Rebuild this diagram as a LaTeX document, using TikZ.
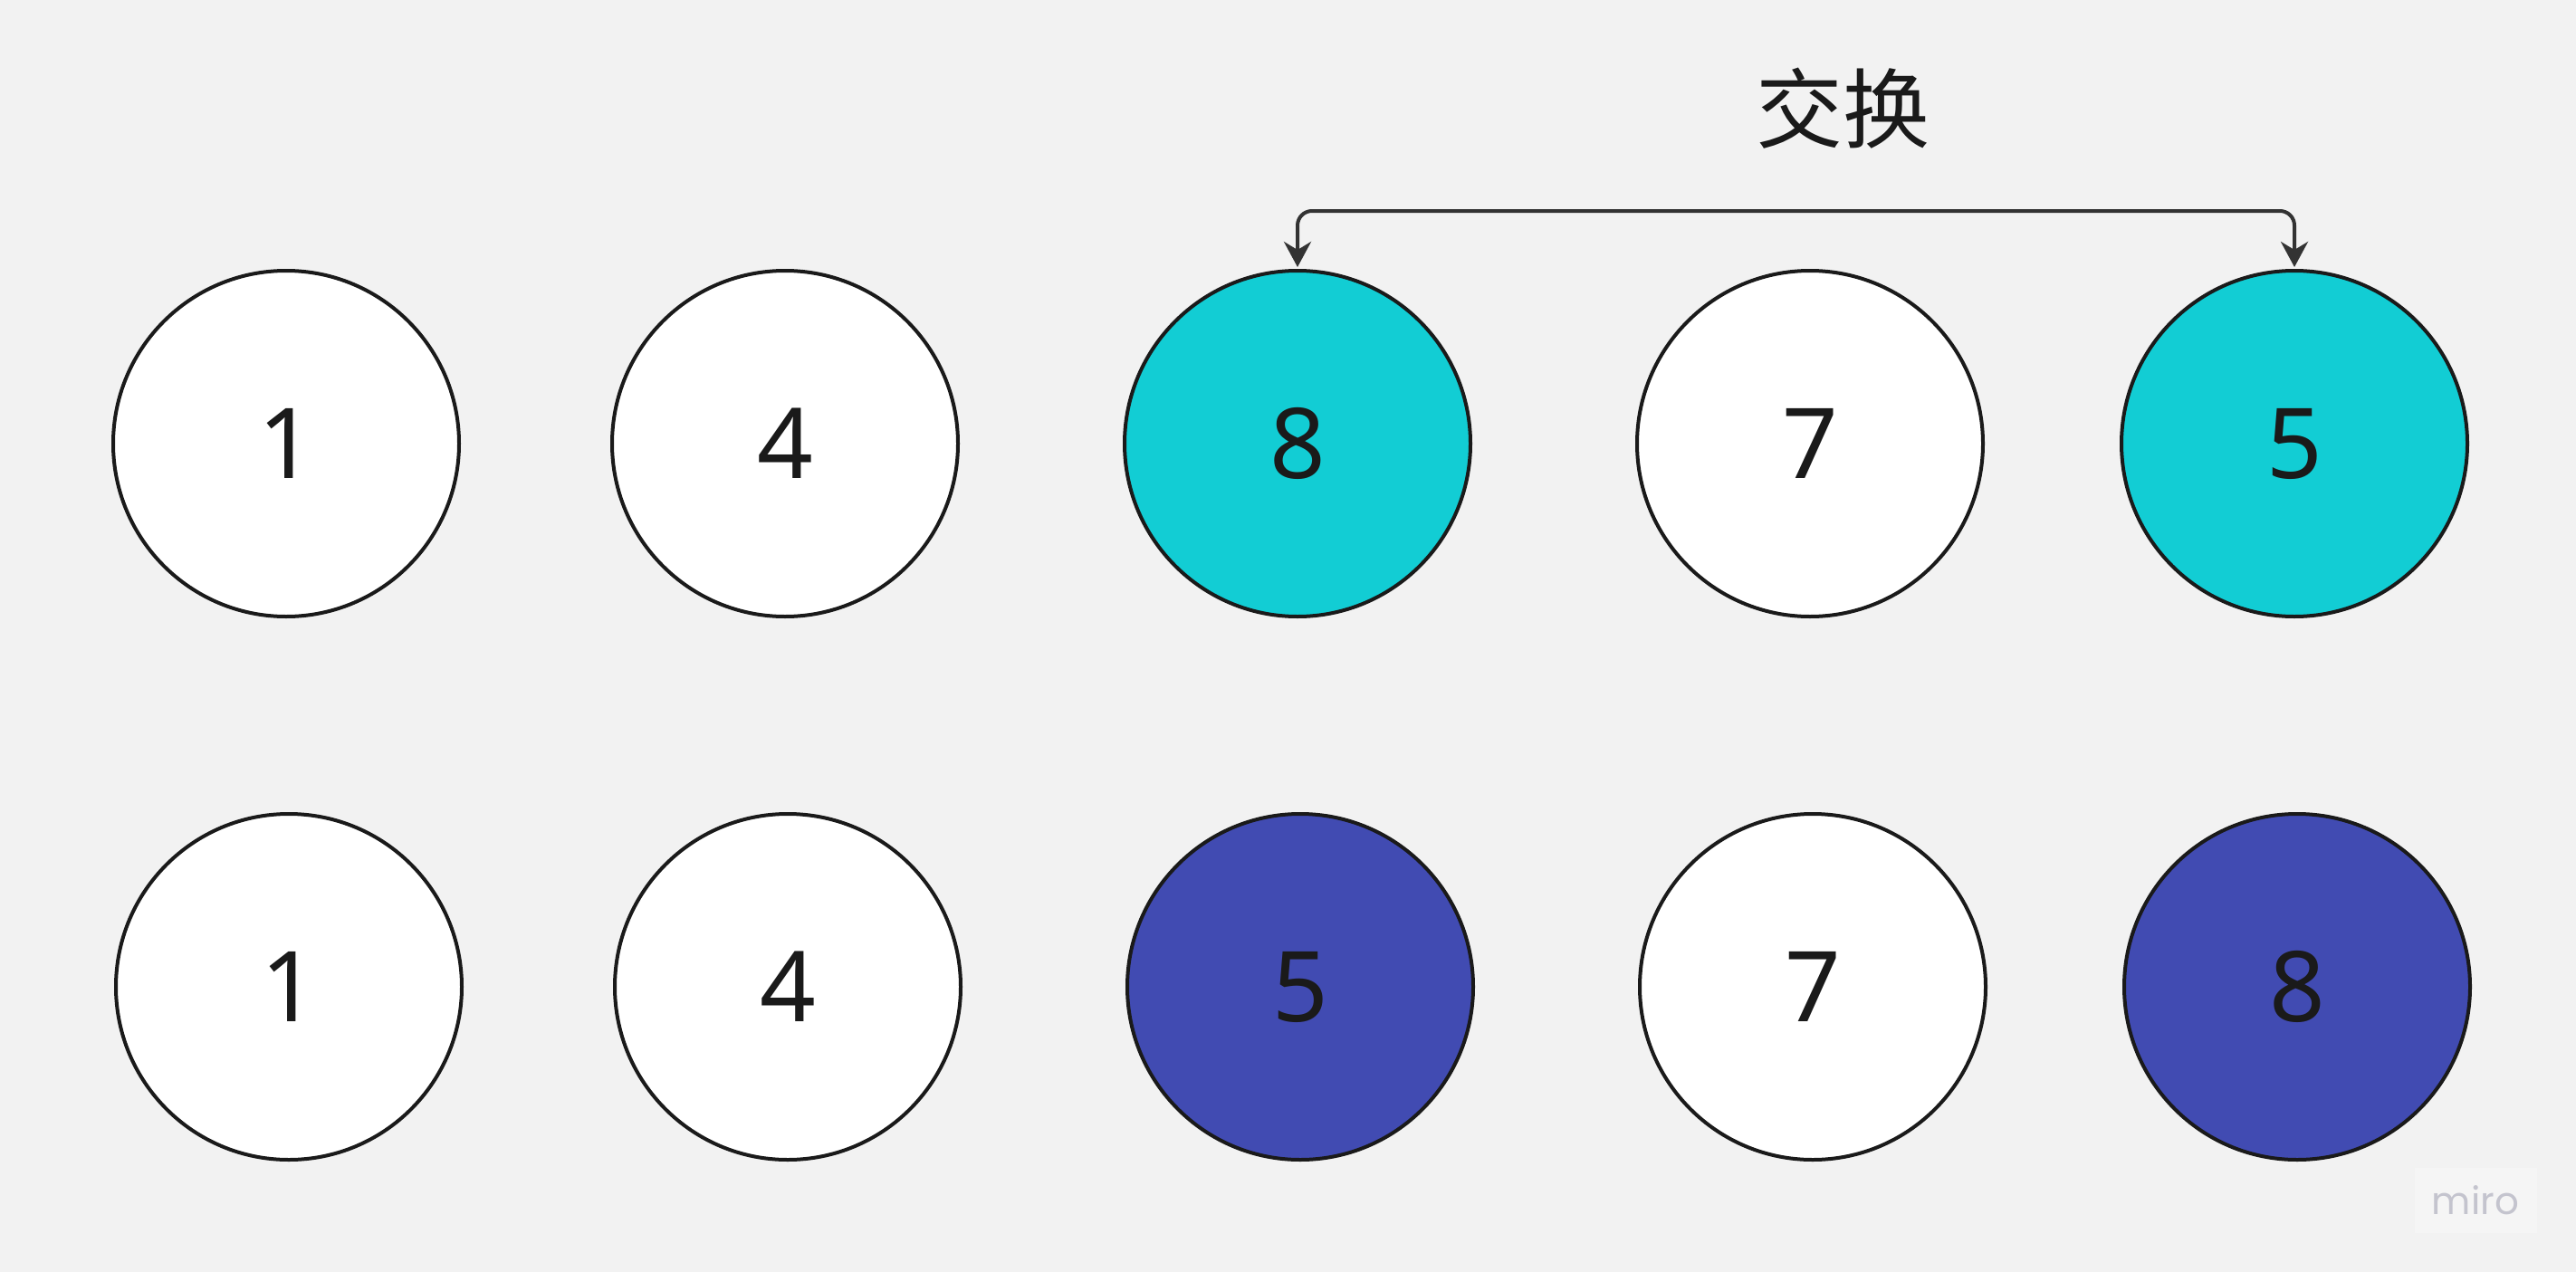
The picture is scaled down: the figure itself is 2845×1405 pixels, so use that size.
\documentclass[tikz,border=0pt]{standalone}
\usepackage{fontspec}
\setmainfont{Noto Sans}
\newfontfamily\cjk{Noto Sans CJK SC}
\newfontfamily\mirofont{Poppins}
\usetikzlibrary{arrows.meta}
\definecolor{bgc}{HTML}{F2F2F2}
\definecolor{cyanc}{HTML}{12CDD4}
\definecolor{bluec}{HTML}{414BB2}
\definecolor{linec}{HTML}{1A1A1A}
\definecolor{arrc}{HTML}{333333}
\definecolor{miroc}{HTML}{C4C4CE}
\tikzset{
  ball/.style={circle, draw=linec, line width=4pt, minimum size=382pt, inner sep=0pt,
    fill=white, font=\fontsize{108}{108}\selectfont, text=linec},
  hot/.style={ball, fill=cyanc},
  done/.style={ball, fill=bluec},
  swaparrow/.style={draw=arrc, line width=4pt, rounded corners=16pt,
    {Stealth[length=28pt,width=30pt,inset=9pt]}-{Stealth[length=28pt,width=30pt,inset=9pt]}},
}
\begin{document}
\begin{tikzpicture}[x=1pt,y=-1pt]
\useasboundingbox (0,0) rectangle (2845,1405);
\fill[bgc] (0,0) rectangle (2845,1405);
% top row
\node[ball] (t1) at (316,490) {1};
\node[ball] (t2) at (867,490) {4};
\node[hot]  (t3) at (1433,490) {8};
\node[ball] (t4) at (1999,490) {7};
\node[hot]  (t5) at (2534,490) {5};
% bottom row
\node[ball] (b1) at (319,1090) {1};
\node[ball] (b2) at (870,1090) {4};
\node[done] (b3) at (1436,1090) {5};
\node[ball] (b4) at (2002,1090) {7};
\node[done] (b5) at (2537,1090) {8};
% label
\node[font=\cjk\fontsize{96}{96}\selectfont, text=linec] (lbl) at (2035,120) {交换};
% swap arrow
\coordinate (lt) at ([yshift=64pt]t3.north);
\draw[swaparrow] ([yshift=2pt]t3.north) -- (lt) -| ([yshift=2pt]t5.north);
% watermark
\node[fill=white, fill opacity=0.3, text opacity=1, minimum width=135pt, minimum height=72pt,
  inner sep=0pt, font=\mirofont\fontsize{42}{42}\selectfont, text=miroc] (wm) at (2734,1326) {miro};
\end{tikzpicture}
\end{document}
